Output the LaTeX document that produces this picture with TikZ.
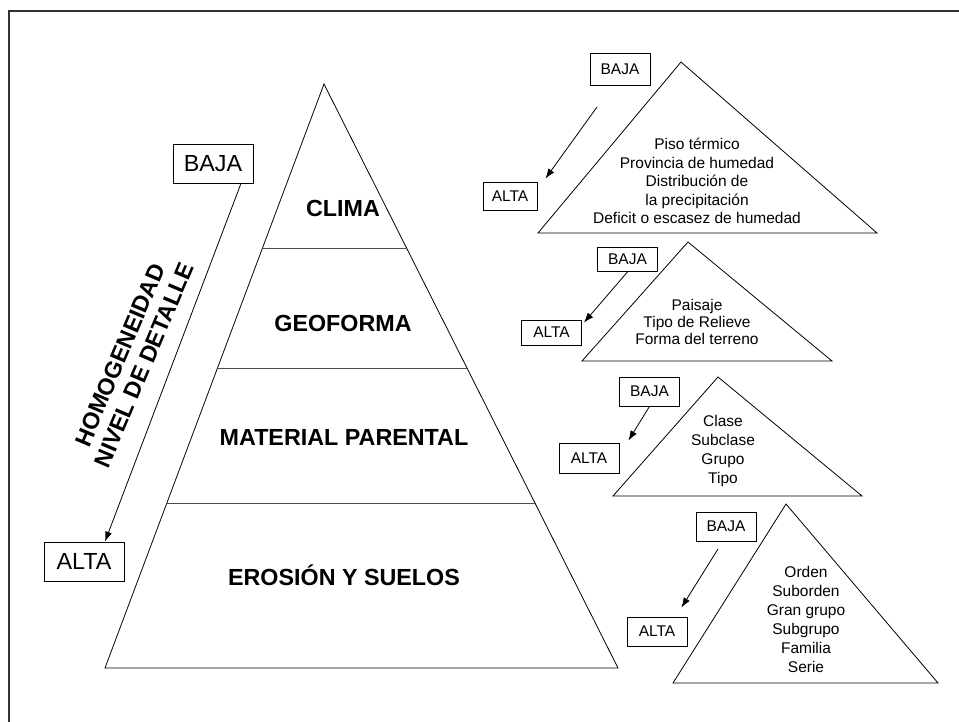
\documentclass[tikz,border=0pt]{standalone}
\usepackage{fontspec}
\setmainfont{Liberation Sans}
\usetikzlibrary{calc,arrows.meta}

\begin{document}
\begin{tikzpicture}[x=1pt,y=-1pt,line width=0.8pt,
    bigtag/.style={rectangle, draw, minimum width=80, minimum height=39, inner sep=0pt, font=\fontsize{23.3}{26}\selectfont},
    smalltag/.style={rectangle, draw, minimum width=60, minimum height=29, inner sep=0pt, font=\fontsize{15.5}{18.5}\selectfont},
    layer/.style={inner sep=0pt, text height=16.7, text depth=0, font=\fontsize{23.3}{26}\selectfont\bfseries},
    items/.style={align=center, inner sep=0pt, font=\fontsize{15.5}{18.5}\selectfont},
    pointer/.style={-{Latex[length=10,width=7]}}]
        \useasboundingbox (0,0) rectangle (959,721);
        \draw[line width=1.3pt,black!80] (9,11) rectangle (985,745);

        % Main pyramid
        \coordinate (top) at (324,84);
        \coordinate (baseL) at (105,668);
        \coordinate (baseR) at (618,668);
        \draw (top) -- (baseR) -- (baseL) -- cycle;
        \foreach \t in {0.2808,0.4863,0.7175}
            \draw[black!70] ($(top)!\t!(baseL)$) -- ($(top)!\t!(baseR)$);

        \node[layer] (clima) at (343,208) {CLIMA};
        \node[layer] (geoforma) at (343,323) {GEOFORMA};
        \node[layer] (material) at (344,437) {MATERIAL PARENTAL};
        \node[layer] (erosion) at (344,577) {EROSIÓN Y SUELOS};

        % Left scale
        \node[bigtag] (bigbaja) at (213,163.5) {BAJA};
        \node[bigtag] (bigalta) at (84,561.5) {ALTA};
        \node[align=center, rotate=67, inner sep=0pt, font=\fontsize{23.3}{26}\selectfont\bfseries] (detalle) at (132,360) {HOMOGENEIDAD\\NIVEL DE DETALLE};
        \draw[pointer] ([xshift=28]bigbaja.south) -- ([xshift=21]bigalta.north);

        % Small pyramids
        \draw (681,62) -- (877,233) -- (538,233) -- cycle;
        \draw (688,242) -- (832,361) -- (582,361) -- cycle;
        \draw (718,377) -- (862,496) -- (613,496) -- cycle;
        \draw (786,504) -- (938,683) -- (673,683) -- cycle;

        \node[items] (clima list) at (697,181) {Piso térmico\\Provincia de humedad\\Distribución de\\la precipitación\\Deficit o escasez de humedad};
        \node[items, font=\fontsize{15.5}{17.3}\selectfont] (geoforma list) at (697,322) {Paisaje\\Tipo de Relieve\\Forma del terreno};
        \node[items, font=\fontsize{15.5}{19}\selectfont] (material list) at (723,450.5) {Clase\\Subclase\\Grupo\\Tipo};
        \node[items, font=\fontsize{15.5}{19}\selectfont] (suelos list) at (806,619.5) {Orden\\Suborden\\Gran grupo\\Subgrupo\\Familia\\Serie};

        \node[smalltag, minimum height=32] (baja1) at (620,69) {BAJA};
        \node[smalltag, minimum width=54, minimum height=28] (alta1) at (510,196) {ALTA};
        \node[smalltag, minimum height=24] (baja2) at (627.5,259.5) {BAJA};
        \node[smalltag, minimum height=25] (alta2) at (551.5,332.5) {ALTA};
        \node[smalltag] (baja3) at (649.5,391.5) {BAJA};
        \node[smalltag, minimum height=30] (alta3) at (589,458) {ALTA};
        \node[smalltag] (baja4) at (726,526.5) {BAJA};
        \node[smalltag] (alta4) at (657,631.5) {ALTA};

        % Arrows
        \coordinate (start1) at (597,107);
        \coordinate (start4) at (718,549);
        \draw[pointer] (start1) -- ([shift={(8,-3)}]alta1.north east);
        \draw[pointer] (baja2.south) -- ([shift={(2,3)}]alta2.north east);
        \draw[pointer] (baja3.south) -- ([shift={(9,-2)}]alta3.north east);
        \draw[pointer] (start4) -- ([shift={(-6,-9)}]alta4.north east);
\end{tikzpicture}
\end{document}
